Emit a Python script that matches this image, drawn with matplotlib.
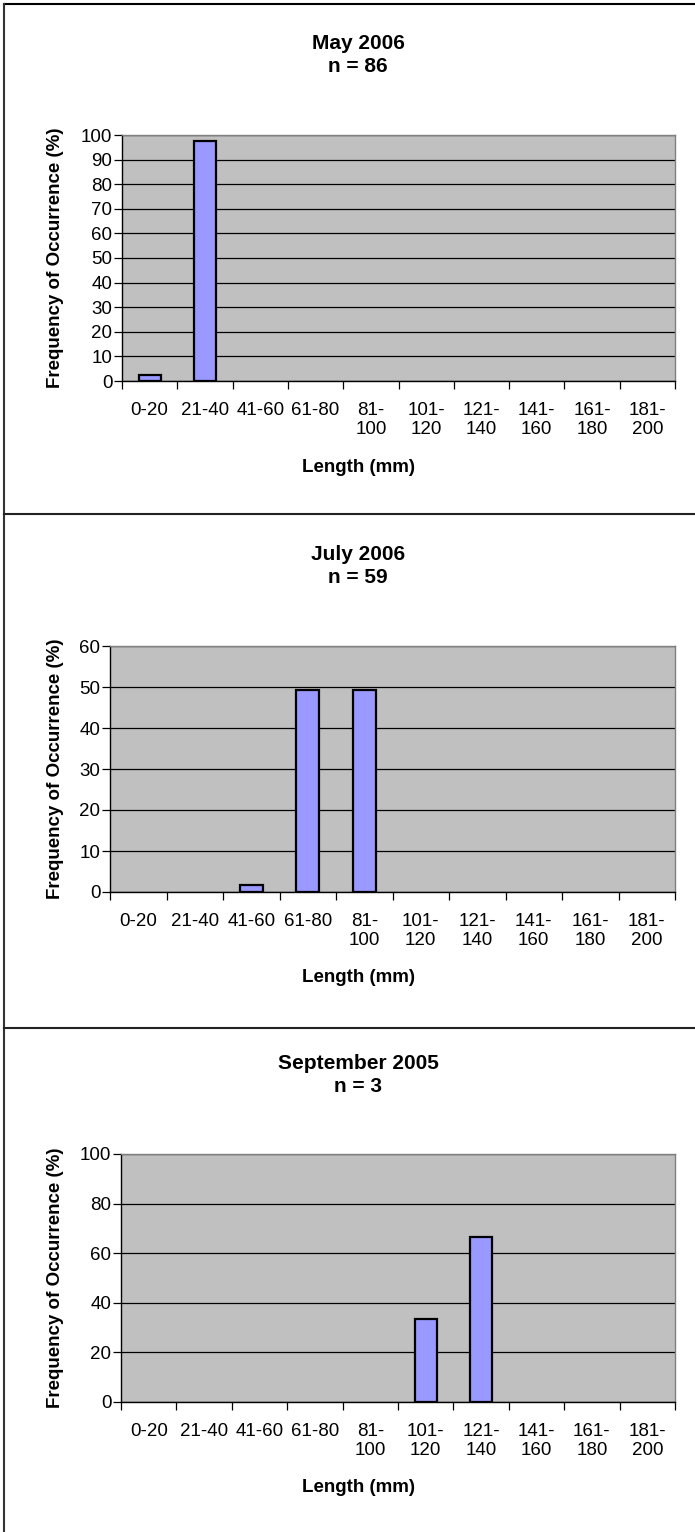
import matplotlib
matplotlib.use('Agg')
import matplotlib.pyplot as plt
from matplotlib.lines import Line2D
import numpy as np

plt.rcParams['font.family'] = ['Liberation Sans', 'DejaVu Sans']

# length classes
bins = ['0-20', '21-40', '41-60', '61-80', '81-\n100', '101-\n120',
        '121-\n140', '141-\n160', '161-\n180', '181-\n200']

# frequency of occurrence (%) per sample
may_2006 = [2.3, 97.7, 0, 0, 0, 0, 0, 0, 0, 0]
july_2006 = [0, 0, 1.7, 49.2, 49.2, 0, 0, 0, 0, 0]
sept_2005 = [0, 0, 0, 0, 0, 33.3, 66.7, 0, 0, 0]

titles = ['May 2006\nn = 86', 'July 2006\nn = 59', 'September 2005\nn = 3']
series = [may_2006, july_2006, sept_2005]
ymax = [100, 60, 100]
ystep = [10, 10, 20]

W, H = 695, 1532
fig = plt.figure(figsize=(W / 100, H / 100), dpi=100)

# axes boxes in pixels: left, top, right, bottom
boxes = [(122, 135, 675, 381), (110, 646, 675, 892), (121, 1154, 675, 1402)]
title_y = [55, 566, 1075]
fs = 13.5

for i in range(3):
    l, t, r, b = boxes[i]
    ax = fig.add_axes([l / W, 1 - b / H, (r - l) / W, (b - t) / H])
    ax.set_facecolor('#c0c0c0')
    x = np.arange(len(bins))
    vals = np.array(series[i])
    nz = vals > 0
    ax.bar(x[nz], vals[nz], width=0.4, color='#9999ff', edgecolor='black',
           linewidth=1.6, zorder=3)
    ax.set_xlim(-0.5, len(bins) - 0.5)
    ax.set_ylim(0, ymax[i])
    ax.set_yticks(np.arange(0, ymax[i] + 1, ystep[i]))
    ax.grid(axis='y', color='black', linewidth=0.9, zorder=1)
    ax.set_axisbelow(True)

    # ticks at the class boundaries, labels at the class centres
    ax.set_xticks(np.arange(-0.5, len(bins)), labels=[''] * (len(bins) + 1))
    ax.set_xticks(x, labels=bins, minor=True)
    ax.tick_params(axis='x', which='major', length=6, width=0.9, color='black')
    ax.tick_params(axis='x', which='minor', length=0, pad=15, labelsize=fs)
    for lab in ax.get_xticklabels(minor=True):
        lab.set_linespacing(1.15)
    ax.tick_params(axis='y', length=6, width=0.9, labelsize=fs, pad=1)

    for side in ['top', 'right']:
        ax.spines[side].set_color('#808080')
    for side in ['left', 'bottom']:
        ax.spines[side].set_color('black')
    for s in ax.spines.values():
        s.set_linewidth(1.0)

    # axis titles
    fig.text(358 / W, 1 - (b + 86) / H, 'Length (mm)', ha='center', va='center',
             fontsize=fs, fontweight='bold')
    fig.text(56 / W, 1 - (t + b) / 2 / H, 'Frequency of Occurrence (%)',
             rotation=90, ha='center', va='center', fontsize=fs,
             fontweight='bold')

    fig.text(358 / W, 1 - title_y[i] / H, titles[i], ha='center', va='center',
             fontsize=15, fontweight='bold', linespacing=1.25)

# chart borders
lw = 1.5
fig.add_artist(Line2D([4 / W, 1], [1 - 4 / H, 1 - 4 / H], color='black', lw=lw))
fig.add_artist(Line2D([4 / W, 4 / W], [0, 1 - 4 / H], color='#333333', lw=lw))
for yy in [514, 1028]:
    fig.add_artist(Line2D([4 / W, 1], [1 - yy / H, 1 - yy / H], color='#222222', lw=lw))

fig.savefig('out.png', dpi=100)
